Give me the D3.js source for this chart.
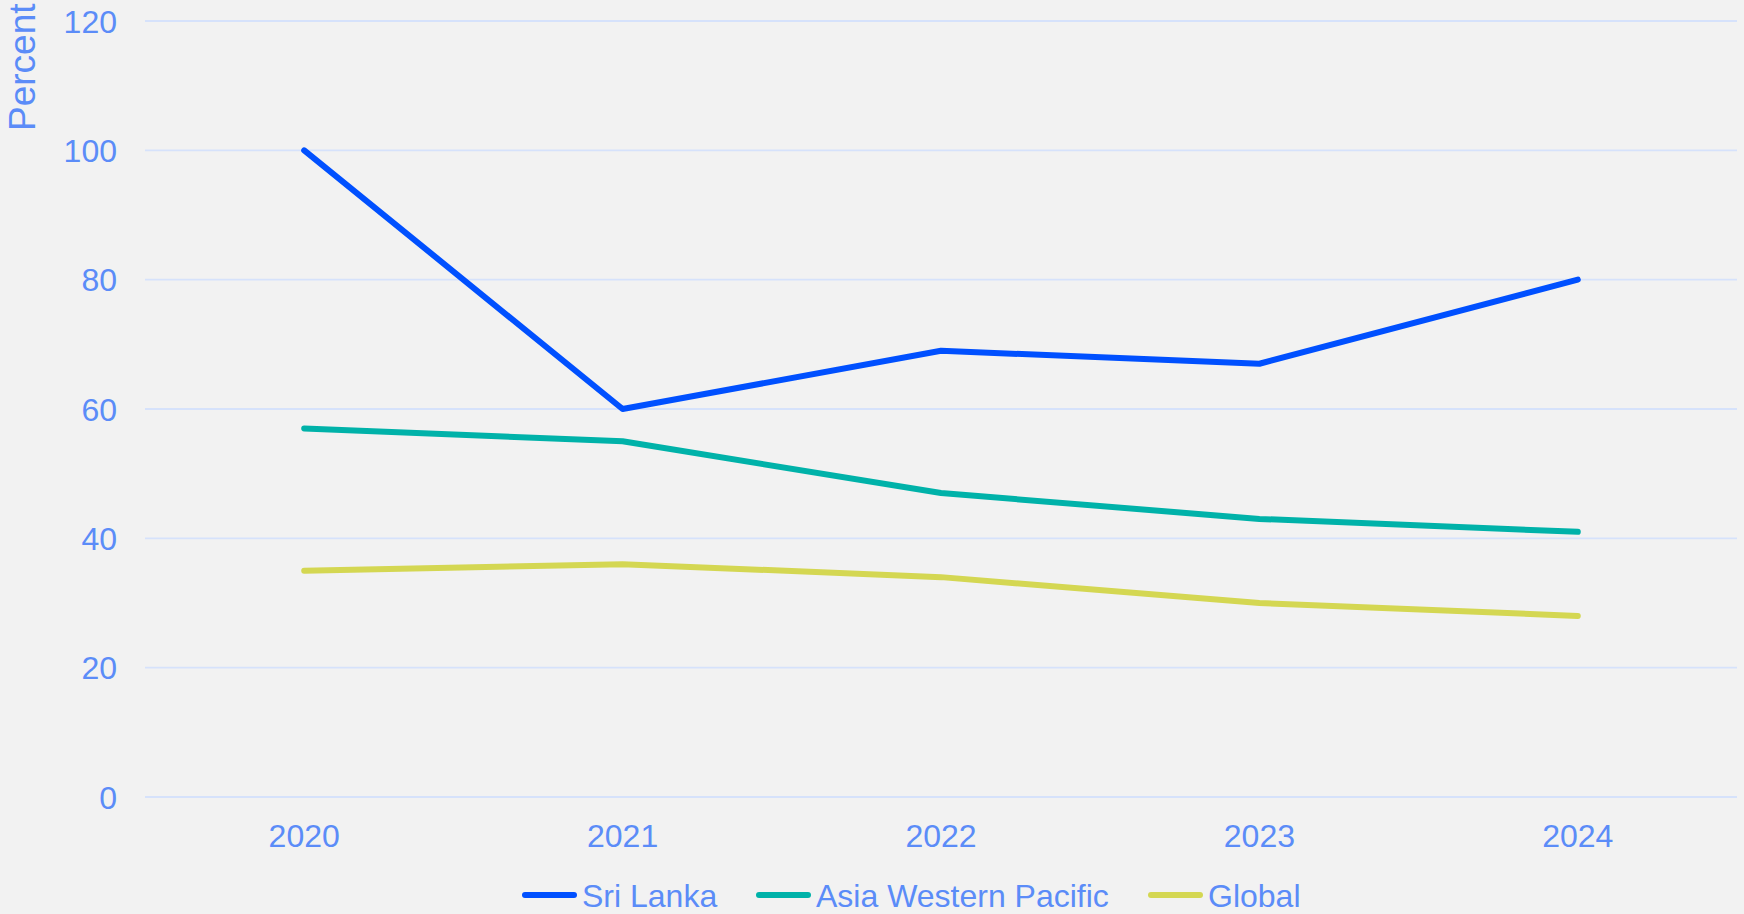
<!DOCTYPE html>
<html>

<head>
    <meta charset="utf-8">
    <title>Percent by year</title>
    <script src="https://d3js.org/d3.v7.min.js"></script>
    <style>
        body {
            margin: 0;
            background: #f2f2f2;
        }

        text {
            font-family: "Liberation Sans", Arial, sans-serif;
            fill: #5b8cf8;
        }
    </style>
</head>

<body>
    <svg width="1744" height="914"></svg>

    <script>
        // data
        const years = ["2020", "2021", "2022", "2023", "2024"];
        const sriLanka = [100, 60, 69, 67, 80];
        const asiaWesternPacific = [57, 55, 47, 43, 41];
        const global = [35, 36, 34, 30, 28];
        const yTicks = [0, 20, 40, 60, 80, 100, 120];

        const series = [
            { name: "Sri Lanka", values: sriLanka, color: "#0050ff" },
            { name: "Asia Western Pacific", values: asiaWesternPacific, color: "#00b2a9" },
            { name: "Global", values: global, color: "#d4d752" }
        ];

        const svg = d3.select("svg");
        svg.append("rect").attr("width", 1744).attr("height", 914).attr("fill", "#f2f2f2");

        const x = d3.scaleBand().domain(years).range([145, 1737]);
        const y = d3.scaleLinear().domain([0, 120]).range([797, 21]);

        // gridlines
        svg.append("g")
            .selectAll("line")
            .data(yTicks)
            .enter()
            .append("line")
            .attr("x1", 145)
            .attr("x2", 1737)
            .attr("y1", d => y(d))
            .attr("y2", d => y(d))
            .attr("stroke", "#d6e2fb")
            .attr("stroke-width", 1.8);

        // y labels
        svg.append("g")
            .selectAll("text")
            .data(yTicks)
            .enter()
            .append("text")
            .attr("x", 117)
            .attr("y", d => y(d))
            .attr("dy", "0.36em")
            .attr("text-anchor", "end")
            .attr("font-size", 32)
            .text(d => d);

        // x labels
        svg.append("g")
            .selectAll("text")
            .data(years)
            .enter()
            .append("text")
            .attr("x", d => x(d) + x.bandwidth() / 2)
            .attr("y", 847)
            .attr("text-anchor", "middle")
            .attr("font-size", 32)
            .text(d => d);

        // axis title
        svg.append("text")
            .attr("transform", "translate(35,131) rotate(-90)")
            .attr("font-size", 37)
            .text("Percent");

        // lines
        const line = d3.line()
            .x((d, i) => x(years[i]) + x.bandwidth() / 2)
            .y(d => y(d));

        svg.append("g")
            .selectAll("path")
            .data(series)
            .enter()
            .append("path")
            .attr("d", d => line(d.values))
            .attr("fill", "none")
            .attr("stroke", d => d.color)
            .attr("stroke-width", 6)
            .attr("stroke-linecap", "round")
            .attr("stroke-linejoin", "round");

        // legend
        const legendX = [523, 757, 1149];
        const legend = svg.append("g")
            .selectAll("g")
            .data(series)
            .enter()
            .append("g")
            .attr("transform", (d, i) => `translate(${legendX[i]},895)`);

        legend.append("line")
            .attr("x1", 2)
            .attr("x2", 51)
            .attr("stroke", d => d.color)
            .attr("stroke-width", 6)
            .attr("stroke-linecap", "round");

        legend.append("text")
            .attr("x", 59)
            .attr("dy", "0.36em")
            .attr("font-size", 32)
            .text(d => d.name);
    </script>
</body>

</html>
